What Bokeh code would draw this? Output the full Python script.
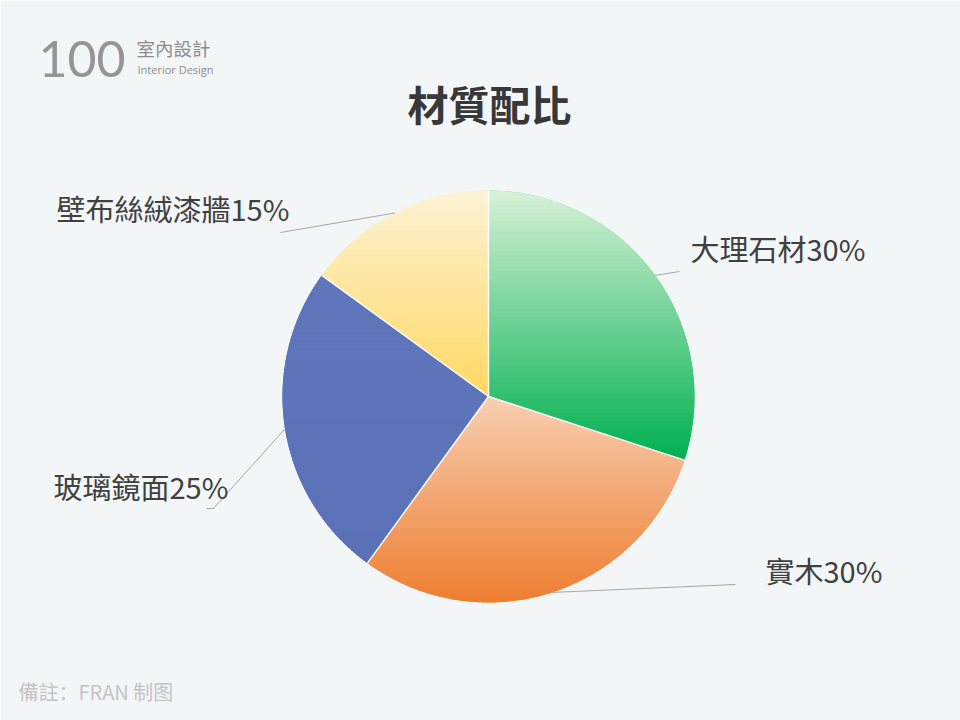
import numpy as np
from bokeh.plotting import figure
from bokeh.models import Range1d, Label, ColumnDataSource
from bokeh.embed import file_html
from bokeh.resources import INLINE
from bokeh.core.properties import value

# ---- data ----
categories = ["大理石材", "實木", "玻璃鏡面", "壁布絲絨漆牆"]
shares = [30, 30, 25, 15]
title_text = "材質配比"
note_text = "備註：FRAN 制图"

# ---- style ----
top_colors = ["#d8f1d8", "#f8cfb2", "#5f76bb", "#fdf3d6"]
bottom_colors = ["#00b050", "#ee7e30", "#5a71b8", "#ffd863"]
BG = "#f3f6f7"
TXT = "#404040"
FONT = "Noto Sans CJK TC"

# ---- layout (screen-like coords: y_data = 720 - y_px) ----
W, H = 960, 720
cx, cy, R = 488.0, 720 - 396.0, 206.0
label_anchor = {  # left-middle anchor of each label
    "大理石材": (690, 720 - 247),
    "實木": (765, 720 - 569),
    "玻璃鏡面": (53, 720 - 485),
    "壁布絲絨漆牆": (56, 720 - 207),
}
leader_end = {
    "大理石材": [(679, 720 - 271)],
    "實木": [(735, 720 - 584)],
    "玻璃鏡面": [(213, 720 - 508), (206, 720 - 508)],
    "壁布絲絨漆牆": [(280, 720 - 232)],
}

p = figure(width=W, height=H, output_backend="svg", toolbar_location=None,
           x_range=Range1d(0, 960), y_range=Range1d(0, 720),
           x_axis_location=None, y_axis_location=None, min_border=0)
p.grid.visible = False
p.outline_line_color = None
p.background_fill_color = BG
p.border_fill_color = BG


def hex2rgb(h):
    h = h.lstrip("#")
    return np.array([int(h[i:i + 2], 16) for i in (0, 2, 4)], dtype=float)


def rgb2hex(c):
    c = np.clip(np.round(c), 0, 255).astype(int)
    return "#%02x%02x%02x" % tuple(c)


def clip_half(poly, y0, keep_above):
    out = []
    n = len(poly)
    for i in range(n):
        a = poly[i]
        b = poly[(i + 1) % n]
        ina = a[1] >= y0 if keep_above else a[1] <= y0
        inb = b[1] >= y0 if keep_above else b[1] <= y0
        if ina:
            out.append(a)
        if ina != inb:
            t = (y0 - a[1]) / (b[1] - a[1])
            out.append((a[0] + t * (b[0] - a[0]), y0))
    return out


total = float(sum(shares))
cum = np.concatenate([[0], np.cumsum(shares)]) / total
start_deg = 90 - 360 * cum[:-1]
end_deg = 90 - 360 * cum[1:]

strip_xs, strip_ys, strip_cols = [], [], []
base_xs, base_ys, base_cols = [], [], []
for k in range(len(categories)):
    angs = np.radians(np.linspace(start_deg[k], end_deg[k], 240))
    poly = [(cx, cy)] + [(cx + R * np.cos(a), cy + R * np.sin(a)) for a in angs]
    ys_all = [pt[1] for pt in poly]
    ymin, ymax = min(ys_all), max(ys_all)
    c_top, c_bot = hex2rgb(top_colors[k]), hex2rgb(bottom_colors[k])
    base_xs.append([pt[0] for pt in poly])
    base_ys.append([pt[1] for pt in poly])
    base_cols.append(rgb2hex((c_top + c_bot) / 2))
    N = 70
    edges = np.linspace(ymax, ymin, N + 1)
    for i in range(N):
        hi = edges[i] + 0.7
        lo = edges[i + 1]
        sub = clip_half(poly, lo, True)
        if len(sub) < 3:
            continue
        sub = clip_half(sub, hi, False)
        if len(sub) < 3:
            continue
        t = (i + 0.5) / N
        strip_xs.append([pt[0] for pt in sub])
        strip_ys.append([pt[1] for pt in sub])
        strip_cols.append(rgb2hex(c_top + (c_bot - c_top) * t))

p.patches(base_xs, base_ys, fill_color=base_cols, line_color=None)
p.patches(strip_xs, strip_ys, fill_color=strip_cols, line_color=None)

# separators
sep_x, sep_y = [], []
for a in np.radians(start_deg):
    sep_x.append([cx, cx + R * np.cos(a)])
    sep_y.append([cy, cy + R * np.sin(a)])
p.multi_line(sep_x, sep_y, line_color="white", line_width=1.4)

# leader lines from slice mid-arc to label
mid = np.radians((start_deg + end_deg) / 2)
lx, ly = [], []
for k, cat in enumerate(categories):
    pts = [(cx + R * np.cos(mid[k]), cy + R * np.sin(mid[k]))] + leader_end[cat]
    lx.append([q[0] for q in pts])
    ly.append([q[1] for q in pts])
p.multi_line(lx, ly, line_color="#a6a6a6", line_width=1)

# labels
src = ColumnDataSource(dict(
    x=[label_anchor[c][0] for c in categories],
    y=[label_anchor[c][1] for c in categories],
    t=[f"{c}{s}%" for c, s in zip(categories, shares)],
))
p.text(x="x", y="y", text="t", source=src, text_font=value(FONT),
       text_font_size="29px", text_color=TXT, text_align="left",
       text_baseline="middle")

# title
p.add_layout(Label(x=489, y=720 - 102, text=title_text, text_font=FONT,
                   text_font_size="41px", text_font_style="bold",
                   text_color="#383838", text_align="center",
                   text_baseline="middle"))

# logo
p.add_layout(Label(x=38, y=720 - 58, text="100", text_font="Lato",
                   text_font_size="50px", text_color="#959595",
                   text_align="left", text_baseline="middle"))
p.add_layout(Label(x=136, y=720 - 47, text="室內設計", text_font=FONT,
                   text_font_size="18.5px", text_color="#8c8c8c",
                   text_align="left", text_baseline="middle"))
p.add_layout(Label(x=137, y=720 - 69, text="Interior Design", text_font="Open Sans",
                   text_font_size="11px", text_color="#8c8c8c",
                   text_align="left", text_baseline="middle"))

# footnote
p.add_layout(Label(x=18, y=720 - 691, text=note_text, text_font="Noto Sans CJK SC",
                   text_font_size="20px", text_color="#c4c4c4",
                   text_align="left", text_baseline="middle"))

open("out.html", "w").write(file_html(p, INLINE))
